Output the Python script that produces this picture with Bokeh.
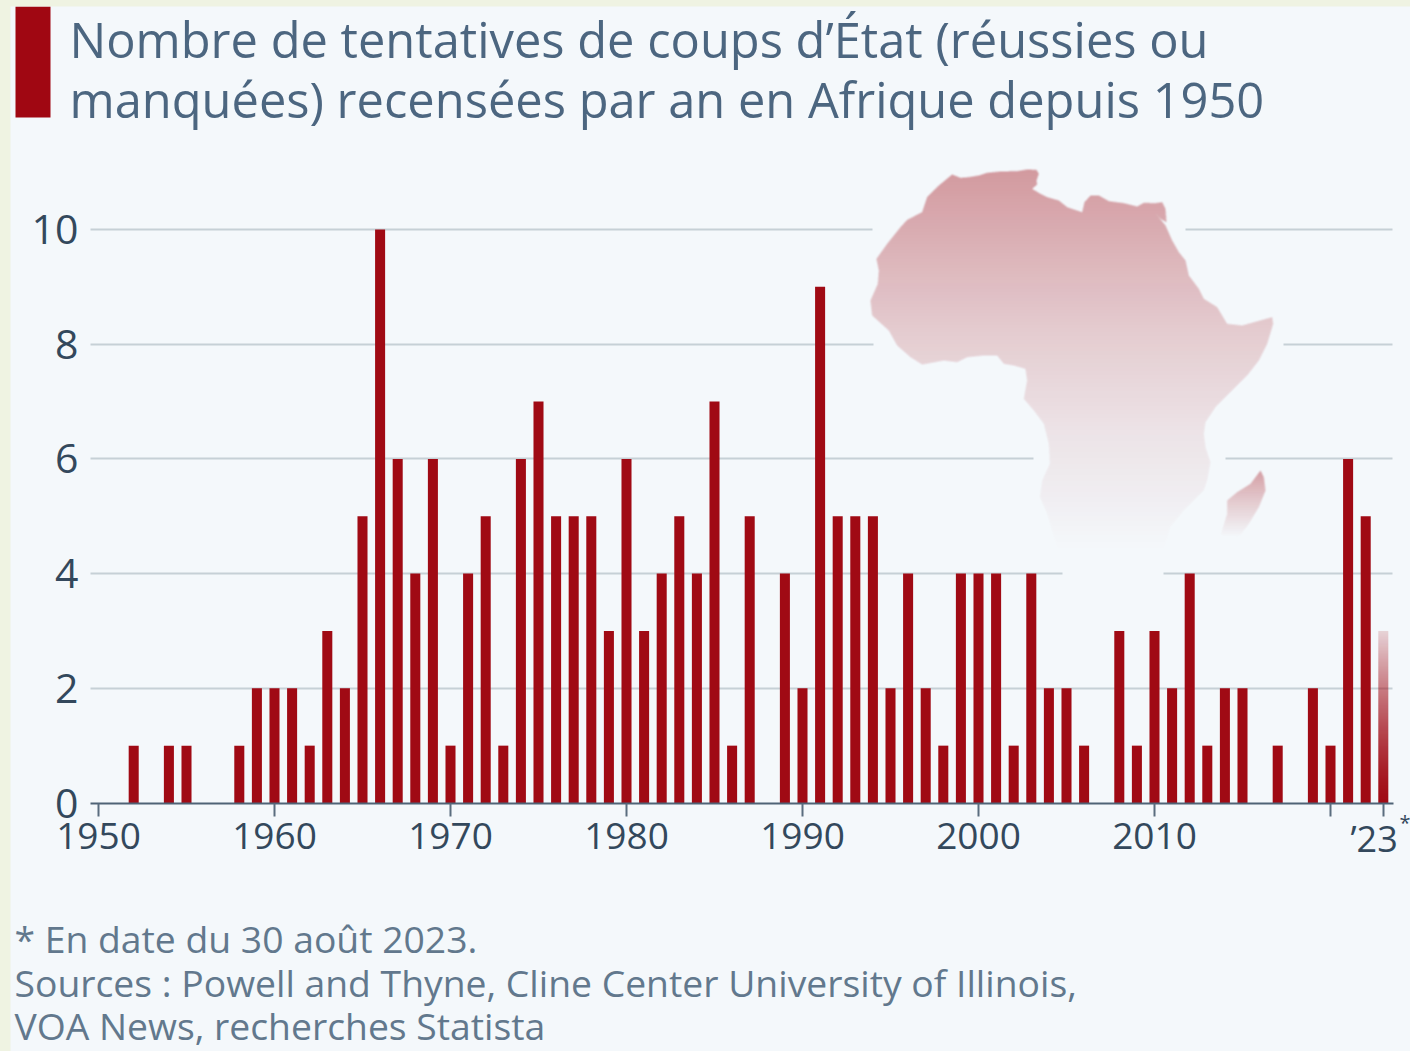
import numpy as np
from bokeh.plotting import figure
from bokeh.models import FixedTicker, Label, Range1d
from bokeh.embed import file_html
from bokeh.resources import INLINE

# ---- data ----
years = list(range(1950, 2024))
coups = [0, 0, 1, 0, 1, 1, 0, 0, 1, 2,
         2, 2, 1, 3, 2, 5, 10, 6, 4, 6,
         1, 4, 5, 1, 6, 7, 5, 5, 5, 3,
         6, 3, 4, 5, 4, 7, 1, 5, 0, 4,
         2, 9, 5, 5, 5, 2, 4, 2, 1, 4,
         4, 4, 1, 4, 2, 2, 1, 0, 3, 1,
         3, 2, 4, 1, 2, 2, 0, 1, 0, 2,
         1, 6, 5, 3]
x_ticks = [1950, 1960, 1970, 1980, 1990, 2000, 2010, 2020, 2023]
x_labels = ["1950", "1960", "1970", "1980", "1990", "2000", "2010", "", ""]
y_ticks = [0, 2, 4, 6, 8, 10]
title_lines = ["Nombre de tentatives de coups d\u2019\u00c9tat (r\u00e9ussies ou",
               "manqu\u00e9es) recens\u00e9es par an en Afrique depuis 1950"]
foot_lines = ["* En date du 30 ao\u00fbt 2023.",
              "Sources : Powell and Thyne, Cline Center University of Illinois,",
              "VOA News, recherches Statista"]

# decoration: outline of the continent, in reference crop pixels
africa = [(305,42),(330,52),(355,50),(385,45),(410,37),(450,33),(500,32),(530,27),(558,28),(565,40),(558,60),
          (560,72),(545,85),(570,100),(590,110),(625,120),(650,140),(695,155),(702,125),(720,105),(745,105),
          (775,122),(820,128),(860,138),(880,127),(915,128),(935,125),(945,145),(948,185),(930,175),(915,158),
          (945,195),(965,240),(985,275),(1005,300),(1015,345),(1045,385),(1060,415),(1100,440),(1130,490),
          (1175,495),(1265,470),(1268,490),(1250,550),(1225,600),(1190,645),(1140,695),(1095,740),(1065,785),
          (1060,820),(1065,860),(1080,905),(1070,960),(1060,990),(1000,1050),(960,1100),(940,1180),(620,1170),
          (590,1060),(568,1010),(575,960),(598,910),(595,850),(580,790),(550,750),(520,715),(530,660),(525,625),
          (490,615),(460,610),(440,585),(400,585),(350,590),(320,605),(280,600),(215,612),(180,590),(140,555),
          (115,510),(65,465),(60,420),(82,370),(85,330),(78,295),(110,250),(150,200),(170,178),(215,155),
          (230,110),(265,75)]
madagascar = [(1230,930),(1240,950),(1245,990),(1225,1040),(1195,1090),(1165,1130),(1110,1125),(1130,1060),
              (1130,1020),(1160,995),(1200,970)]

BG = "#f4f8fb"
STRIP = "#eff3e2"
RED = "#a00a14"
OX, OY = 10, 6                 # panel origin in the page
PXY = 17.6                     # px per year
PXV = 57.35                    # px per unit
X0, Y0 = 98, 802.5             # page px of (1950, 0)

def dx(px): return 1950 + (px - X0) / PXY
def dy(py): return (Y0 - py) / PXV

p = figure(width=1400, height=1045, output_backend="svg", toolbar_location=None,
           x_range=Range1d(dx(OX), dx(1410)), y_range=Range1d(dy(1051), dy(OY)),
           min_border_left=0, min_border_right=0, min_border_top=0, min_border_bottom=0,
           background_fill_color=BG, border_fill_color=BG, outline_line_color=None)

# axes
xa = p.xaxis[0]
xa.fixed_location = 0
xa.ticker = FixedTicker(ticks=x_ticks)
xa.major_label_overrides = {t: l for t, l in zip(x_ticks, x_labels)}
xa.bounds = (dx(90), dx(1393))
xa.axis_line_color = "#4f6376"
xa.axis_line_width = 2
xa.major_tick_line_color = "#5a6d7f"
xa.major_tick_line_width = 2
xa.major_tick_out = 13
xa.major_tick_in = 0
xa.minor_tick_line_color = None
xa.major_label_standoff = 7
xa.major_label_text_font = "Open Sans"
xa.major_label_text_font_size = "37px"
xa.major_label_text_color = "#33485c"

ya = p.yaxis[0]
ya.fixed_location = dx(90)
ya.ticker = FixedTicker(ticks=y_ticks)
ya.axis_line_color = None
ya.major_tick_line_color = None
ya.minor_tick_line_color = None
ya.major_label_standoff = 6
ya.major_label_text_font = "Open Sans"
ya.major_label_text_font_size = "41px"
ya.major_label_text_color = "#33485c"

p.xgrid.visible = False
yg = p.ygrid[0]
yg.ticker = FixedTicker(ticks=y_ticks[1:])
yg.cross_bounds = (dx(90), dx(1392))
yg.grid_line_color = "#c6d0d6"
yg.grid_line_width = 2

# gaps of the gridlines around the map
gap_v = [10, 8, 6, 4]
gap_l = [872, 873, 1033, 1062]
gap_r = [1185, 1283, 1225, 1163]
p.quad(left=[dx(a) for a in gap_l], right=[dx(b) for b in gap_r],
       bottom=[v - 0.06 for v in gap_v], top=[v + 0.06 for v in gap_v],
       fill_color=BG, line_color=None)

# map image
def inside(poly, X, Y):
    c = np.zeros(X.shape, bool)
    n = len(poly)
    for i in range(n):
        x1, y1 = poly[i]
        x2, y2 = poly[(i + 1) % n]
        if y1 == y2:
            continue
        m = ((y1 > Y) != (y2 > Y)) & (X < (x2 - x1) * (Y - y1) / (y2 - y1) + x1)
        c ^= m
    return c

def to_page(poly):
    return [(850 + a / 3, 160 + b / 3) for a, b in poly]

L, R, T, B = 860, 1285, 165, 570
S = 3
W, H = (R - L) * S, (B - T) * S
xs = L + (np.arange(W) + .5) / S
ys = T + (np.arange(H) + .5) / S
XX, YY = np.meshgrid(xs, ys)
al = inside(to_page(africa), XX, YY) * np.interp(YY, [170, 230, 330, 430, 495, 535, 555], [.40, .32, .19, .09, .045, .012, 0])
am = inside(to_page(madagascar), XX, YY) * np.interp(YY, [470, 500, 537], [.38, .20, 0])
alpha = al + am
alpha = alpha.reshape(H // S, S, W // S, S).mean(axis=(1, 3))
# soft edges
kernel = np.array([1, 2, 1]) / 4
alpha = np.apply_along_axis(lambda r: np.convolve(r, kernel, mode="same"), 0, alpha)
alpha = np.apply_along_axis(lambda r: np.convolve(r, kernel, mode="same"), 1, alpha)

def rgba(alpha_arr):
    im = np.zeros(alpha_arr.shape, dtype=np.uint32)
    v = im.view(dtype=np.uint8).reshape(alpha_arr.shape + (4,))
    v[..., 0], v[..., 1], v[..., 2] = 160, 10, 20
    v[..., 3] = (alpha_arr * 255).astype(np.uint8)
    return im
p.image_rgba(image=[rgba(alpha)[::-1]], x=dx(L), y=dy(B), dw=(R - L) / PXY, dh=(B - T) / PXV)

# bars
BW = 0.57
p.vbar(x=years[:-1], top=coups[:-1], width=BW, fill_color=RED, line_color=None)
# last (partial) year fades towards its top
t = np.linspace(0, 1, 172).reshape(-1, 1)
p.image_rgba(image=[rgba(1 - 0.84 * t ** 1.4)], x=years[-1] - BW / 2, y=0, dw=BW, dh=coups[-1])

# red block by the title
p.quad(left=[dx(15)], right=[dx(50)], bottom=[dy(117)], top=[dy(6)], fill_color="#a00712", line_color=None)

def txt(s, px, py, size, color, align="left"):
    p.add_layout(Label(x=dx(px), y=dy(py), text=s, text_font="Open Sans", text_font_size=f"{size}px",
                       text_color=color, text_baseline="alphabetic", text_align=align))

txt(title_lines[0], 69, 38, 48.8, "#4c6680")
txt(title_lines[1], 69, 98, 48.8, "#4c6680")
txt(foot_lines[0], 14, 938, 37.3, "#62788d")
txt(foot_lines[1], 14, 982, 37.3, "#62788d")
txt(foot_lines[2], 14, 1025, 37.3, "#62788d")
txt("\u201923", 1350, 838, 36, "#33485c")
txt("*", 1399, 822, 20, "#33485c")

html = file_html(p, INLINE)
html = html.replace("</head>", "<style>html,body{overflow:hidden}body{margin:%dpx 0 0 %dpx;background:%s}</style></head>" % (OY, OX, STRIP), 1)
open("out.html", "w").write(html)
